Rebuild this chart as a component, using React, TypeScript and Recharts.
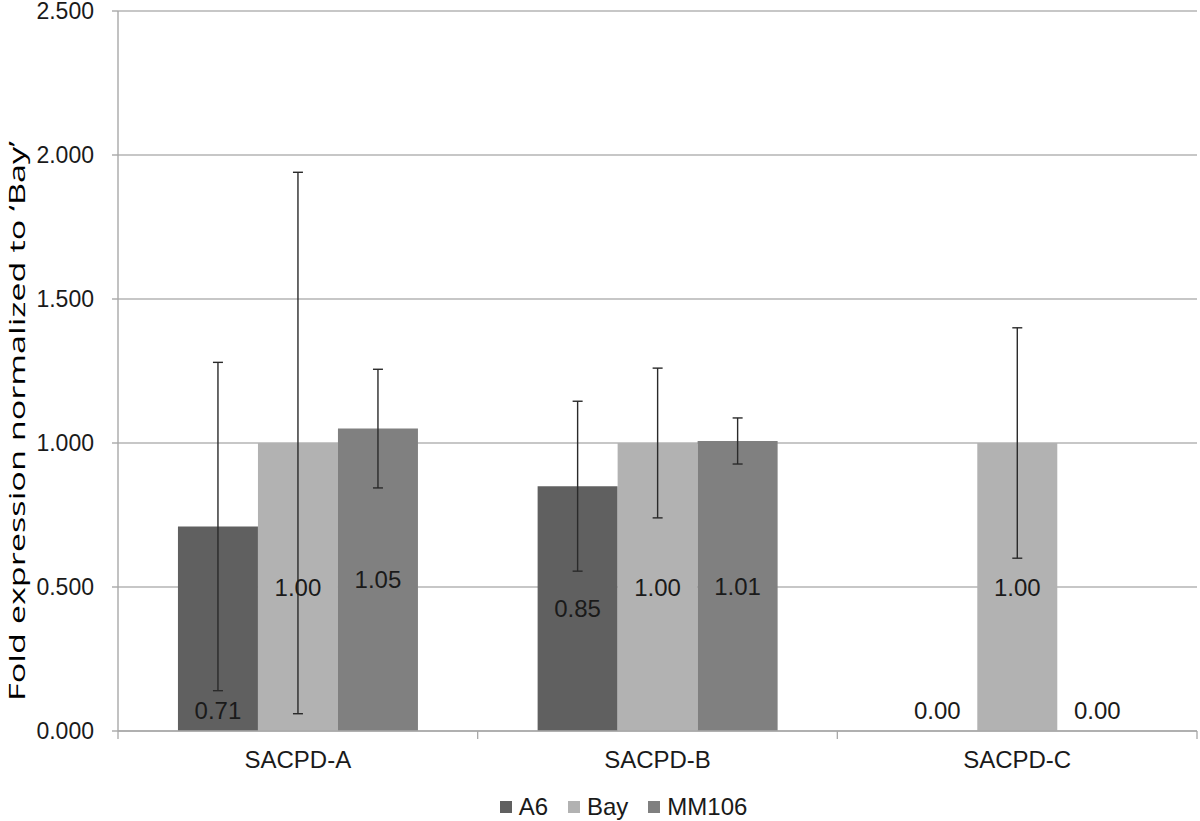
import React from "react";
import {
  BarChart,
  Bar,
  XAxis,
  YAxis,
  CartesianGrid,
  ErrorBar,
  LabelList,
  Legend,
} from "recharts";

/* ────────────────────────────────────────── */
/*  Data                                      */
/* ────────────────────────────────────────── */

const categories = ["SACPD-A", "SACPD-B", "SACPD-C"];
const seriesNames = ["A6", "Bay", "MM106"];

const a6Values = [0.71, 0.85, 0];
const bayValues = [1.0, 1.0, 1.0];
const mm106Values = [1.05, 1.007, 0];

const a6Errors = [0.57, 0.295, null];
const bayErrors = [0.94, 0.26, 0.4];
const mm106Errors = [0.206, 0.08, null];

const yTicks = [0, 0.5, 1, 1.5, 2, 2.5];
const yTitle = "Fold expression normalized to \u2018Bay\u2019";

const colors = ["#606060", "#b2b2b2", "#808080"];

const data = categories.map((category, i) => ({
  category,
  A6: a6Values[i],
  A6Err: a6Errors[i],
  Bay: bayValues[i],
  BayErr: bayErrors[i],
  MM106: mm106Values[i],
  MM106Err: mm106Errors[i],
}));

const FONT = "'Liberation Sans', Arial, sans-serif";
const AXIS = "#a8a8a8";
const TEXT = "#1a1a1a";

/* ────────────────────────────────────────── */
/*  Category tick with boundary tick marks    */
/* ────────────────────────────────────────── */

function CategoryTick(props: any) {
  const { x, y, payload, index } = props;
  const half = payload?.offset ?? 0;
  const last = index === categories.length - 1;
  return (
    <g>
      <line x1={x - half} x2={x - half} y1={y} y2={y + 8} stroke={AXIS} strokeWidth={1.3} />
      {last && (
        <line x1={x + half} x2={x + half} y1={y} y2={y + 8} stroke={AXIS} strokeWidth={1.3} />
      )}
      <text x={x} y={y + 37} textAnchor="middle" fontSize={24} fontFamily={FONT} fill={TEXT}>
        {payload.value}
      </text>
    </g>
  );
}

/* ────────────────────────────────────────── */
/*  Value labels (centre, or base when short) */
/* ────────────────────────────────────────── */

function ValueLabel(props: any) {
  const vb = props.viewBox ?? props;
  const { x, y, width, height } = vb;
  const value = Number(props.value);
  const cx = x + width / 2;
  const cy = value < 0.8 ? y + height - 21 : y + height / 2;
  return (
    <text
      x={cx}
      y={cy}
      dy="0.36em"
      textAnchor="middle"
      fontSize={24}
      fontFamily={FONT}
      fill={TEXT}
    >
      {value.toFixed(2)}
    </text>
  );
}

/* ────────────────────────────────────────── */
/*  Axis title                                */
/* ────────────────────────────────────────── */

function YTitle(props: any) {
  const vb = props.viewBox ?? { y: 10, height: 721 };
  const cy = vb.y + vb.height / 2 + 50;
  const cx = 25;
  return (
    <text
      transform={`translate(${cx},${cy}) rotate(-90)`}
      textAnchor="middle"
      fontSize={22}
      fontFamily="'Open Sans', sans-serif"
      fill="#000"
      textLength={560}
      lengthAdjust="spacingAndGlyphs"
    >
      {yTitle}
    </text>
  );
}

/* ────────────────────────────────────────── */
/*  Legend                                    */
/* ────────────────────────────────────────── */

function LegendContent() {
  return (
    <div
      style={{
        display: "flex",
        justifyContent: "center",
        alignItems: "flex-start",
        gap: 20,
        paddingTop: 14,
        paddingLeft: 50,
        height: 40,
        boxSizing: "border-box",
      }}
    >
      {seriesNames.map((name, i) => (
        <div key={name} style={{ display: "flex", alignItems: "center", gap: 7, height: 24 }}>
          <span style={{ width: 12, height: 12, background: colors[i], display: "inline-block" }} />
          <span style={{ fontFamily: FONT, fontSize: 24, lineHeight: "24px", color: TEXT }}>
            {name}
          </span>
        </div>
      ))}
    </div>
  );
}

export default function App() {
  return (
    <div style={{ position: "absolute", left: 0, top: 0, width: 1200, height: 821, background: "#fff" }}>
      <BarChart
        width={1200}
        height={821}
        data={data}
        margin={{ top: 11, right: 3, bottom: 0, left: 0 }}
        barCategoryGap="16.67%"
        barGap={0}
      >
        <CartesianGrid vertical={false} stroke="#b4b4b4" strokeWidth={1.4} />
        <XAxis
          dataKey="category"
          height={50}
          axisLine={{ stroke: AXIS, strokeWidth: 1.4 }}
          tickLine={false}
          tickSize={0}
          tickMargin={0}
          tick={<CategoryTick />}
          interval={0}
        />
        <YAxis
          width={118}
          domain={[0, 2.5]}
          ticks={yTicks}
          interval={0}
          tickFormatter={(v: number) => v.toFixed(3)}
          axisLine={{ stroke: AXIS, strokeWidth: 1.4 }}
          tickLine={{ stroke: AXIS, strokeWidth: 1.4 }}
          tickSize={6}
          tickMargin={18}
          tick={{ fontSize: 23, fontFamily: FONT, fill: TEXT }}
          label={{ content: <YTitle /> }}
        />
        <Legend verticalAlign="bottom" height={40} content={<LegendContent />} />
        {seriesNames.map((name, i) => (
          <Bar
            key={name}
            dataKey={name}
            fill={colors[i]}
            minPointSize={0.01}
            isAnimationActive={false}
          >
            <ErrorBar dataKey={`${name}Err`} width={5} stroke="#2a2a2a" strokeWidth={1.4} />
            <LabelList dataKey={name} content={<ValueLabel />} />
          </Bar>
        ))}
      </BarChart>
    </div>
  );
}
